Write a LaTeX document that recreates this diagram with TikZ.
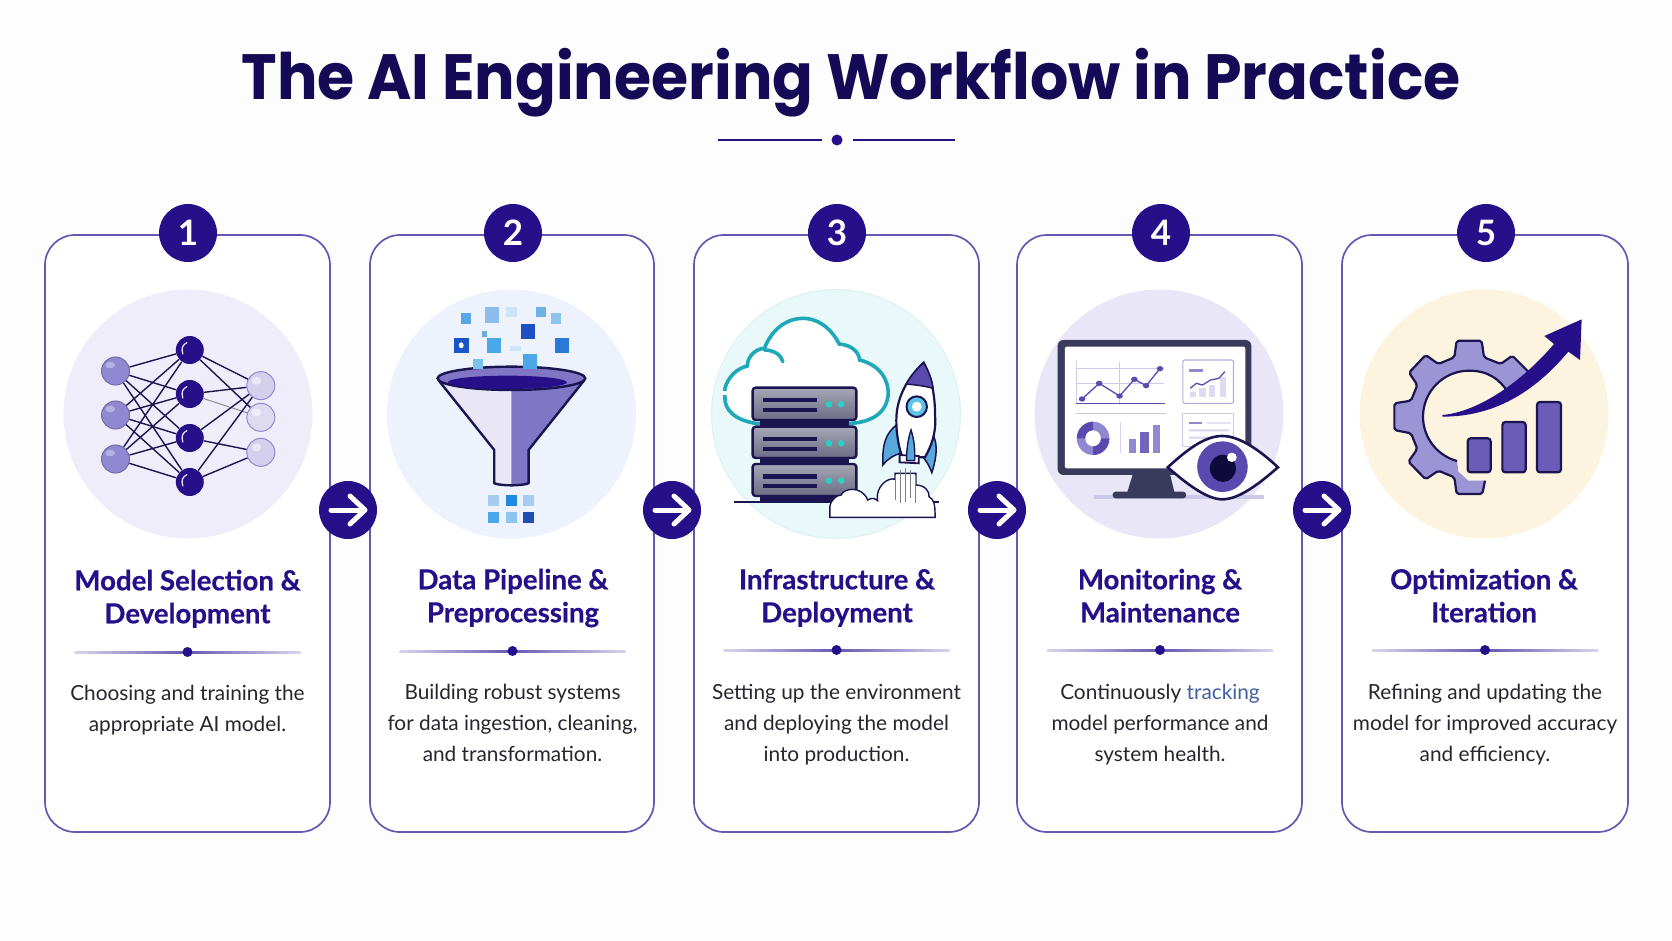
\documentclass[tikz,border=0pt]{standalone}
\usepackage{fontspec}
\setmainfont{Lato}
\newfontfamily\titlefont{Poppins}
\newfontfamily\headfont[BoldFeatures={FakeBold=0.5}]{Lato}
\definecolor{navy}{HTML}{25108A}
\definecolor{titlec}{HTML}{140A55}
\definecolor{edge}{HTML}{6557B2}
\definecolor{ink}{HTML}{26262E}
\definecolor{dark}{HTML}{1A1550}
\definecolor{mid}{HTML}{5A4AB0}
\definecolor{lav}{HTML}{9088D0}
\definecolor{teal}{HTML}{1FA8B8}
\definecolor{sqA}{HTML}{7CC0EC}
\definecolor{sqB}{HTML}{4AA8E8}
\definecolor{dotc}{HTML}{2AD0C0}
\definecolor{rblue}{HTML}{58A8DC}
\definecolor{rwin}{HTML}{5CC4E8}
\definecolor{pupil}{HTML}{0F0A3C}
\definecolor{trackc}{HTML}{3F5F9F}
\definecolor{bgA}{HTML}{F0EDFB}
\definecolor{bgB}{HTML}{EEF2FC}
\definecolor{bgC}{HTML}{E9F8F8}
\definecolor{bgD}{HTML}{E9E7F7}
\definecolor{bgE}{HTML}{FDF4E0}
\definecolor{frame}{HTML}{3A3A5C}
\definecolor{paper}{HTML}{FDFDFE}
\tikzset{
 cardbox/.style={draw=edge,line width=1.7pt,fill=white,rounded corners=30pt,inner sep=0,outer sep=0,minimum height=597pt},
 iconbg/.style={circle,inner sep=0,outer sep=0,minimum size=249pt},
 badge/.style={circle,fill=navy,inner sep=0,outer sep=0,minimum size=58pt,text=white,font=\fontsize{35}{35}\selectfont\bfseries},
 headtext/.style={anchor=north,align=center,text=navy,inner sep=0,font=\headfont\fontsize{27.6}{33}\selectfont\bfseries},
 desctext/.style={anchor=north,align=center,text=ink,inner sep=0,font=\fontsize{20.8}{31}\selectfont},
 zA/.style={shift={(40,220)},x=0.40816pt,y=-0.33333pt},
 zB/.style={shift={(680,220)},x=0.40816pt,y=-0.33333pt},
 zC/.style={shift={(1280,220)},x=0.33333pt,y=-0.33333pt},
 nnL/.style={circle,inner sep=0,minimum size=28pt,fill=#1},
 nnedge/.style={draw=dark,line width=1.4pt},
 srv/.style={draw=dark,line width=2.4pt,top color=frame!45!white,bottom color=frame!75!white,rounded corners=3pt},
}
\newcommand{\divider}[2]{%
 \shade[left color=edge!25,right color=edge] (#1-113,#2-1) rectangle (#1,#2+1);
 \shade[left color=edge,right color=edge!25] (#1,#2-1) rectangle (#1+113,#2+1);
 \fill[navy] (#1,#2) circle[radius=5];}
\newcommand{\arrowbadge}[2]{%
 \node[badge] (#1) at (#2,510) {};
 \draw[white,line width=5pt,line cap=round,line join=round] ($(#1)+(-17,0)$) -- ($(#1)+(15,0)$);
 \draw[white,line width=5pt,line cap=round,line join=round] ($(#1)+(2,-14)$) -- ($(#1)+(17,0)$) -- ($(#1)+(2,14)$);}
\usetikzlibrary{calc}
\begin{document}
\begin{tikzpicture}[x=1pt,y=-1pt]
\useasboundingbox (0,0) rectangle (1672,941);
\fill[paper] (0,0) rectangle (1672,941);
% title
\node[inner sep=0,anchor=base,text=titlec] (title) at (851,100) {\scalebox{0.94}[1]{\titlefont\fontsize{64}{64}\selectfont\bfseries The AI Engineering Workflow in Practice}};
\draw[navy,line width=2.4pt] (718,140) coordinate (tl1) -- (822,140) coordinate (tl2);
\draw[navy,line width=2.4pt] (853,140) coordinate (tr1) -- (955,140) coordinate (tr2);
\fill[navy] (837,140) circle[radius=5.5];
% cards
\node[cardbox,minimum width=285pt] (card1) at (187.5,533.5) {};
\node[cardbox,minimum width=284pt] (card2) at (512,533.5) {};
\node[cardbox,minimum width=285pt] (card3) at (836.5,533.5) {};
\node[cardbox,minimum width=285pt] (card4) at (1159.5,533.5) {};
\node[cardbox,minimum width=286pt] (card5) at (1485,533.5) {};
% icon backgrounds
\node[iconbg,fill=bgA] (bg1) at (188,414) {};
\node[iconbg,fill=bgB] (bg2) at (511.5,414) {};
\node[iconbg,fill=bgC,draw=teal!15!white,line width=1pt] (bg3) at (836,414) {};
\node[iconbg,fill=bgD] (bg4) at (1159,414) {};
\node[iconbg,fill=bgE] (bg5) at (1484,414) {};
% icon 1
\begin{scope}[zA]
 \node[nnL=lav,draw=lav!80!black,line width=1pt] (a1) at (185,453) {};
 \node[nnL=lav,draw=lav!80!black,line width=1pt] (a2) at (185,585) {};
 \node[nnL=lav,draw=lav!80!black,line width=1pt] (a3) at (185,717) {};
 \node[nnL=navy] (b1) at (367,390) {};
 \node[nnL=navy] (b2) at (367,522) {};
 \node[nnL=navy] (b3) at (367,654) {};
 \node[nnL=navy] (b4) at (367,786) {};
 \node[nnL=lav!40!white,draw=lav,line width=1pt] (c1) at (541,497) {};
 \node[nnL=lav!30!white,draw=lav,line width=1pt] (c2) at (541,592) {};
 \node[nnL=lav!40!white,draw=lav,line width=1pt] (c3) at (541,697) {};
 \foreach \p in {a1,a2,a3}{\foreach \q in {b1,b2,b3,b4}{\draw[nnedge] (\p)--(\q);}}
 \draw[nnedge] (b1)--(c1);
 \draw[nnedge] (b1)--(c2);
 \draw[nnedge] (b2)--(c1);
 \draw[draw=black!45,line width=1pt] (b2)--(c2);
 \draw[nnedge] (b3)--(c1);
 \draw[nnedge] (b3)--(c3);
 \draw[nnedge] (b4)--(c1);
 \draw[nnedge] (b4)--(c3);
 \foreach \n/\y in {b1/390,b2/522,b3/654,b4/786}{
  \draw[white!75!lav,line width=1.3pt,line cap=round] (350,\y+12) .. controls (345,\y-6) and (350,\y-16) .. (360,\y-22);}
 \foreach \y in {453,585,717}{\fill[white,opacity=.35] (172,\y-18) ellipse[x radius=12,y radius=10];}
 \foreach \y in {497,592,697}{\fill[white,opacity=.5] (530,\y-15) ellipse[x radius=12,y radius=12];}
\end{scope}
% icon 2
\begin{scope}[zA]
 \foreach \X/\Y/\W/\H/\C in {1044/295/25/32/5AA5E6,1108/285/34/46/8CBCEC,1155/276/28/30/CDE4F8,1228/276/24/30/6EB2EA,1264/296/24/32/8CC4EC,1196/335/34/44/1F4FC0,1032/376/36/46/1A55C8,1112/376/34/44/4AA8E8,1279/376/36/46/2A78D8,1090/342/12/20/6AAEE0,1165/386/28/14/CFE4F8,1112/841/27/33/A5CDF2,1155/841/27/33/1F8AE0,1198/841/27/33/A5CDF2,1112/893/27/33/4EA6EA,1155/893/27/33/8CC4F0,1198/893/27/33/1F4FB0}{
  \definecolor{tmpc}{HTML}{\C}
  \fill[tmpc] (\X-\W/2,\Y-\H/2) rectangle (\X+\W/2,\Y+\H/2);}
 \fill[white] (1032,376) ellipse[x radius=6,y radius=9];
 \fill[lav!20!white] (976,480) -- (1113,690) -- (1113,790) -- (1155,795) -- (1155,480) -- cycle;
 \fill[lav!85!navy] (1334,480) -- (1197,690) -- (1197,790) -- (1155,795) -- (1155,480) -- cycle;
 \draw[dark,line width=2.4pt,line join=round] (976,480) -- (1113,690) -- (1113,790) .. controls (1130,798) and (1180,798) .. (1197,790) -- (1197,690) -- (1334,480);
 \draw[dark,line width=2.4pt,fill=lav!85!navy] (1155,475) ellipse[x radius=181,y radius=35];
 \fill[navy] (1145,487) ellipse[x radius=146,y radius=20];
 \fill[sqA] (1061,417) rectangle (1085,447);
 \fill[sqB] (1184,403) rectangle (1218,447);
\end{scope}
% icon 3
\begin{scope}[zB]
 \draw[teal,line width=3.6pt,fill=white,line cap=round] (185,610) .. controls (135,600) and (108,570) .. (110,530) -- (110,505) .. controls (118,470) and (140,445) .. (165,438) .. controls (165,405) and (190,385) .. (207,385) .. controls (225,325) and (265,295) .. (300,295) .. controls (345,295) and (375,335) .. (390,372) .. controls (420,375) and (438,395) .. (440,420) .. controls (490,435) and (512,480) .. (510,525) .. controls (505,580) and (470,605) .. (420,610) -- cycle;
 \draw[teal,line width=3.6pt,line cap=round] (207,390) .. controls (230,390) and (248,405) .. (252,425);
 \fill[white] (100,512) rectangle (120,525);
 \fill[dark] (195,595) rectangle (415,625);
 \fill[dark] (195,710) rectangle (415,738);
 \fill[dark] (195,825) rectangle (415,846);
 \draw[dark,line width=1.6pt] (133,846) -- (395,846);
 \draw[dark,line width=1.6pt] (600,846) -- (635,846);
 \foreach \t/\b in {503/600,620/714,732/828}{
  \draw[srv] (178,\t) rectangle (432,\b);
  \fill[dark] (204,\t+30) rectangle (335,\t+44);
  \fill[dark] (204,\t+60) rectangle (335,\t+72);
  \fill[dotc] (365,\t+50) ellipse[x radius=8,y radius=10];
  \fill[dotc] (395,\t+50) ellipse[x radius=8,y radius=10];}
 % rocket
 \draw[dark,line width=1.5pt,fill=rblue] (530,615) .. controls (505,640) and (495,670) .. (497,735) .. controls (510,715) and (525,705) .. (540,700) -- cycle;
 \draw[dark,line width=1.5pt,fill=rblue] (618,640) .. controls (630,665) and (632,700) .. (617,758) .. controls (610,735) and (600,715) .. (590,705) -- cycle;
 \draw[dark,line width=2.2pt,fill=white] (597,428) .. controls (560,470) and (530,530) .. (530,600) .. controls (530,650) and (538,690) .. (545,712) -- (600,712) .. controls (615,680) and (628,640) .. (625,590) .. controls (625,520) and (615,470) .. (597,428) -- cycle;
 \draw[dark,line width=1.5pt,fill=mid] (597,428) .. controls (575,452) and (562,475) .. (554,492) .. controls (580,495) and (600,498) .. (620,505) .. controls (618,480) and (608,450) .. (597,428) -- cycle;
 \draw[dark,line width=2pt,fill=rwin] (580,560) ellipse[x radius=25,y radius=31];
 \fill[white] (580,560) ellipse[x radius=12,y radius=15];
 \draw[dark,line width=1.8pt,fill=white] (538,705) -- (585,708) -- (585,730) -- (538,727) -- cycle;
 \draw[dark,line width=1.4pt,fill=rblue] (566,630) .. controls (558,660) and (555,690) .. (555,722) -- (575,722) .. controls (576,690) and (574,660) .. (566,630) -- cycle;
 \draw[dark,line width=1.4pt,fill=white] (367,892) -- (367,860) .. controls (370,838) and (385,825) .. (395,825) .. controls (400,805) and (445,795) .. (460,840) .. controls (470,832) and (478,835) .. (484,842) .. controls (478,800) and (510,770) .. (527,778) -- (527,760) -- (578,760) -- (578,795) .. controls (600,795) and (612,815) .. (610,830) .. controls (622,838) and (625,850) .. (625,892) -- cycle;
 \foreach \x/\a/\b in {528/765/840,540/750/850,552/745/845,565/750/835,577/765/850}{\draw[black!50,line width=.8pt] (\x,\a) -- (\x,\b);}
\end{scope}
% icon 4
\begin{scope}[zB]
 \fill[lav!45!white] (1015,825) rectangle (1430,836);
 \fill[frame] (1110,760) -- (1200,760) -- (1212,820) -- (1095,820) -- cycle;
 \fill[frame,rounded corners=3pt] (1060,815) rectangle (1240,835);
 \fill[frame,rounded corners=6pt] (925,360) rectangle (1400,765);
 \fill[white,rounded corners=2pt] (943,380) rectangle (1385,745);
 \draw[lav!45!white,line width=.7pt] (970,422) -- (970,550) (970,445) -- (1185,445) (970,490) -- (1185,490) (1077,425) -- (1077,550);
 \fill[lav!50!white] (970,578) rectangle (1190,582);
 \fill[lav!35!white] (1077,605) rectangle (1079,700);
 \draw[mid,line width=1.6pt] (970,550) -- (1188,550);
 \draw[mid,line width=1.3pt] (985,537) -- (1027,490) -- (1077,528) -- (1113,478) -- (1142,497) -- (1176,446);
 \foreach \X/\Y in {985/537,1027/490,1077/528,1113/478,1142/497,1176/446}{\fill[mid] (\X,\Y) ellipse[x radius=8,y radius=8];}
 \draw[lav!70!white,line width=1.1pt,rounded corners=2pt] (1232,420) rectangle (1356,550);
 \fill[lav] (1247,447) rectangle (1282,457);
 \foreach \X/\T in {1257/515,1280/505,1303/495,1330/470}{\fill[lav!30!white] (\X-8,\T) rectangle (\X+8,530);}
 \draw[mid,line width=1.3pt] (1250,505) -- (1265,490) -- (1280,495) -- (1300,480) -- (1320,475) -- (1335,455);
 \draw[lav!45!white,line width=1pt] (1232,580) rectangle (1356,680);
 \fill[lav] (1247,605) rectangle (1280,613);
 \fill[lav!35!white] (1290,607) rectangle (1350,611) (1247,628) rectangle (1345,634) (1247,650) rectangle (1330,656);
 \fill[lav] (1012,655) ellipse[x radius=40,y radius=50];
 \fill[mid] (1012,655) -- (1052,655) .. controls (1052,682) and (1035,705) .. (1012,705) -- cycle;
 \fill[mid] (1012,655) -- (1012,605) .. controls (990,605) and (972,630) .. (972,655) -- cycle;
 \fill[white] (1012,655) ellipse[x radius=19,y radius=24];
 \fill[lav] (1100,658) rectangle (1118,700);
 \fill[mid!85!white] (1128,635) rectangle (1148,700);
 \fill[lav] (1158,615) rectangle (1176,700);
 \draw[dark,line width=2.6pt,fill=white] (1195,742) .. controls (1250,680) and (1290,648) .. (1329,648) .. controls (1370,648) and (1420,690) .. (1465,742) .. controls (1420,790) and (1370,838) .. (1329,838) .. controls (1290,838) and (1240,790) .. (1195,742) -- cycle;
 \fill[mid] (1329,740) ellipse[x radius=62,y radius=76];
 \fill[pupil] (1330,745) ellipse[x radius=32,y radius=41];
 \fill[white] (1352,712) ellipse[x radius=12,y radius=14];
\end{scope}
% icon 5
\begin{scope}[zC]
 \fill[lav!90!white] (745,455) -- (697,407) -- (662,432) -- (612,412) -- (605,362) -- (530,362) -- (523,412) -- (475,432) -- (437,405) -- (387,458) -- (412,495) -- (393,542) -- (343,550) -- (343,630) -- (393,640) -- (412,687) -- (385,725) -- (437,778) -- (475,752) -- (523,772) -- (530,822) -- (607,822) -- (615,782) -- (565,782) -- (535,755) -- (531,723) .. controls (471,707) and (429,652) .. (429,590) .. controls (429,514) and (491,452) .. (567,452) .. controls (623,452) and (659,477) .. (684,517) -- cycle;
 \draw[dark,line width=2.2pt,line join=round,rounded corners=2pt] (745,455) -- (697,407) -- (662,432) -- (612,412) -- (605,362) -- (530,362) -- (523,412) -- (475,432) -- (437,405) -- (387,458) -- (412,495) -- (393,542) -- (343,550) -- (343,630) -- (393,640) -- (412,687) -- (385,725) -- (437,778) -- (475,752) -- (523,772) -- (530,822) -- (607,822) -- (615,782);
 \draw[dark,line width=2.2pt] (531,723) .. controls (471,707) and (429,652) .. (429,590) .. controls (429,514) and (491,452) .. (567,452) .. controls (623,452) and (659,477) .. (684,517);
 \fill[navy] (487,585) .. controls (600,575) and (730,480) .. (822,372) -- (793,348) -- (905,298) -- (900,420) -- (865,395) .. controls (760,520) and (640,590) .. (487,590) -- cycle;
 \foreach \l/\t/\r in {563/655/632,667/606/737,771/546/843}{
  \draw[dark,line width=2.2pt,fill=mid!90!white,rounded corners=3pt] (\l,\t) rectangle (\r,757);}
\end{scope}
% badges
\node[badge] (n1) at (188,233) {1};
\node[badge] (n2) at (513,233) {2};
\node[badge] (n3) at (837,233) {3};
\node[badge] (n4) at (1161,233) {4};
\node[badge] (n5) at (1486,233) {5};
% arrows
\arrowbadge{ar1}{348}
\arrowbadge{ar2}{672}
\arrowbadge{ar3}{997}
\arrowbadge{ar4}{1322}
% headings
\node[headtext] (h1) at (187.5,567) {\strut Model Selection \&\\Development};
\node[headtext] (h2) at (513,566) {\strut Data Pipeline \&\\Preprocessing};
\node[headtext] (h3) at (837,566) {\strut Infrastructure \&\\Deployment};
\node[headtext] (h4) at (1160,566) {\strut Monitoring \&\\Maintenance};
\node[headtext] (h5) at (1484,566) {\strut Optimization \&\\Iteration};
\divider{187.5}{652}
\divider{512.5}{651}
\divider{836.5}{650}
\divider{1160}{650}
\divider{1485}{650}
\node[desctext] (d1) at (187.5,679) {\strut Choosing and training the\\appropriate AI model.};
\node[desctext] (d2) at (512.5,678) {\strut Building robust systems\\for data ingestion, cleaning,\\and transformation.};
\node[desctext] (d3) at (836.5,678) {\strut Setting up the environment\\and deploying the model\\into production.};
\node[desctext] (d4) at (1160,678) {\strut Continuously \textcolor{trackc}{tracking}\\model performance and\\system health.};
\node[desctext] (d5) at (1485,678) {\strut Refining and updating the\\model for improved accuracy\\and efficiency.};
\end{tikzpicture}
\end{document}
